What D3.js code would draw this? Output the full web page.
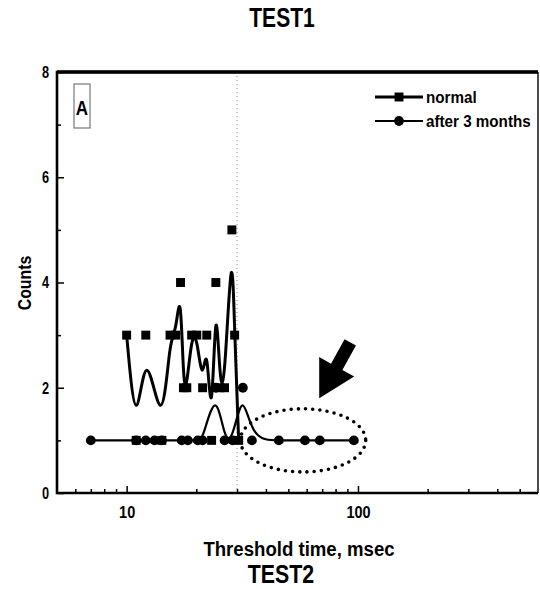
<!DOCTYPE html>
<html>
<head>
<meta charset="utf-8">
<script src="https://cdn.jsdelivr.net/npm/d3@7/dist/d3.min.js"></script>
<style>
  body { margin: 0; background: #fff; }
  svg { display: block; }
  text { font-family: "Liberation Sans", Arial, sans-serif; font-weight: bold; fill: #000; }
</style>
</head>
<body>
<svg id="chart" width="540" height="589"></svg>
<script>
// Threshold-time histograms: counts per threshold time (msec)
const seriesNames = ["normal", "after 3 months"];

const normalTime   = [10, 11, 12.1, 14.2, 15.4, 16.3, 17.1, 17.6, 18.2, 19.1, 20.1, 21.3, 22.2, 23.3, 24.3, 25.3, 26.5, 28.5, 29.3, 30.5];
const normalCounts = [3, 1, 3, 1, 3, 3, 4, 2, 2, 3, 3, 2, 3, 1, 4, 2, 2, 5, 3, 1];

const afterTime   = [7, 11, 12.1, 13.2, 14.2, 17.3, 18.4, 20.3, 21.3, 24.3, 26.5, 28.7, 31.8, 34.8, 45.5, 59, 68.4, 96];
const afterCounts = [1, 1, 1, 1, 1, 1, 1, 1, 1, 2, 1, 1, 2, 1, 1, 1, 1, 1];

const xMajorTicks = [10, 100];
const xMinorTicks = [6, 7, 8, 9, 20, 30, 40, 50, 60, 70, 80, 90, 200, 300, 400, 500];
const yMajorTicks = [0, 2, 4, 6, 8];
const yMinorTicks = [1, 3, 5, 7];

const cutoffTime = 30;                       // dotted reference line
const highlight = { x0: 31, x1: 108, y0: 0.4, y1: 1.6 }; // dotted ellipse around the tail
const arrowTip = { t: 68, c: 1.8 };

const titleTop = "TEST1";
const titleBottom = "TEST2";
const xTitle = "Threshold time, msec";
const yTitle = "Counts";
const panelLabel = "A";

const svg = d3.select("#chart");
const plot = { left: 57, right: 538, top: 72, bottom: 493 };

const x = d3.scaleLog().domain([5, 600]).range([plot.left, plot.right]);
const y = d3.scaleLinear().domain([0, 8]).range([plot.bottom, plot.top]);

// narrow the bold face so text keeps its height but gets a condensed width
function condense(sel, k) {
  sel.each(function () {
    const w = this.getComputedTextLength();
    this.setAttribute("textLength", (w * k).toFixed(1));
    this.setAttribute("lengthAdjust", "spacingAndGlyphs");
  });
}

// titles
svg.append("text").attr("x", 282).attr("y", 27).attr("text-anchor", "middle")
  .style("font-size", "27px").text(titleTop).call(condense, 0.78);
svg.append("text").attr("x", 281).attr("y", 583).attr("text-anchor", "middle")
  .style("font-size", "26px").text(titleBottom).call(condense, 0.82);

// axes (ticks point inward)
const xMinor = d3.axisBottom(x).tickValues(xMinorTicks).tickSize(-4).tickFormat("");
const xMajor = d3.axisBottom(x).tickValues(xMajorTicks).tickSize(-7).tickPadding(13)
  .tickFormat(d => String(d));
const gxm = svg.append("g").attr("transform", `translate(0,${plot.bottom})`).call(xMinor);
const gx = svg.append("g").attr("transform", `translate(0,${plot.bottom})`).call(xMajor);
[gxm, gx].forEach(g => { g.select(".domain").remove(); g.selectAll("line").attr("stroke", "#000").attr("stroke-width", 1.5); });
gx.selectAll("text").style("font-size", "17px").call(condense, 0.85);

const yMinor = d3.axisLeft(y).tickValues(yMinorTicks).tickSize(-4).tickFormat("");
const yMajor = d3.axisLeft(y).tickValues(yMajorTicks).tickSize(-7).tickPadding(8)
  .tickFormat(d => String(d));
const gym = svg.append("g").attr("transform", `translate(${plot.left},0)`).call(yMinor);
const gy = svg.append("g").attr("transform", `translate(${plot.left},0)`).call(yMajor);
[gym, gy].forEach(g => { g.select(".domain").remove(); g.selectAll("line").attr("stroke", "#000").attr("stroke-width", 1.5); });
gy.selectAll("text").style("font-size", "17px").call(condense, 0.75);

// cutoff line
svg.append("line")
  .attr("x1", x(cutoffTime)).attr("x2", x(cutoffTime))
  .attr("y1", plot.top).attr("y2", plot.bottom)
  .attr("stroke", "#888").attr("stroke-width", 1).attr("stroke-dasharray", "1,3");

// frame
svg.append("path")
  .attr("d", `M${plot.right},${plot.top}H${plot.left}V${plot.bottom}H${plot.right}`)
  .attr("fill", "none").attr("stroke", "#000").attr("stroke-width", 2.6);
svg.append("line").attr("x1", plot.right).attr("x2", plot.right)
  .attr("y1", plot.top).attr("y2", plot.bottom).attr("stroke", "#000").attr("stroke-width", 1.4);
svg.append("line").attr("x1", plot.left).attr("x2", plot.right)
  .attr("y1", plot.top).attr("y2", plot.top).attr("stroke", "#000").attr("stroke-width", 3.5);

// axis titles
svg.append("text").attr("x", 299).attr("y", 556).attr("text-anchor", "middle")
  .style("font-size", "20px").text(xTitle).call(condense, 0.93);
svg.append("text").attr("transform", "translate(31,283) rotate(-90)").attr("text-anchor", "middle")
  .style("font-size", "18px").text(yTitle).call(condense, 0.88);

// panel label
svg.append("rect").attr("x", 74).attr("y", 84).attr("width", 16).attr("height", 44)
  .attr("fill", "none").attr("stroke", "#777").attr("stroke-width", 1.2);
svg.append("text").attr("x", 82).attr("y", 115).attr("text-anchor", "middle")
  .style("font-size", "20px").text(panelLabel).call(condense, 0.85);

// series
const normalData = normalTime.map((t, i) => ({ t, c: normalCounts[i] }));
const afterData = afterTime.map((t, i) => ({ t, c: afterCounts[i] }));

const line = d3.line().x(d => x(d.t)).y(d => y(d.c)).curve(d3.curveBasis);

svg.append("path").datum(afterData).attr("d", line)
  .attr("fill", "none").attr("stroke", "#000").attr("stroke-width", 2.2);
svg.append("path").datum(normalData).attr("d", line)
  .attr("fill", "none").attr("stroke", "#000").attr("stroke-width", 3);

const sq = d3.symbol().type(d3.symbolSquare).size(80);
const ci = d3.symbol().type(d3.symbolCircle).size(75);

svg.append("g").selectAll("path").data(afterData).join("path")
  .attr("d", ci).attr("transform", d => `translate(${x(d.t)},${y(d.c)})`).attr("fill", "#000");
svg.append("g").selectAll("path").data(normalData).join("path")
  .attr("d", sq).attr("transform", d => `translate(${x(d.t)},${y(d.c)})`).attr("fill", "#000");

// legend
const legend = svg.append("g");
[{ name: seriesNames[0], y: 97, w: 3, sym: sq }, { name: seriesNames[1], y: 121, w: 1.8, sym: ci }]
  .forEach(item => {
    legend.append("line").attr("x1", 375).attr("x2", 423).attr("y1", item.y).attr("y2", item.y)
      .attr("stroke", "#000").attr("stroke-width", item.w);
    legend.append("path").attr("d", item.sym).attr("transform", `translate(399,${item.y})`).attr("fill", "#000");
    legend.append("text").attr("x", 426).attr("y", item.y + 6).style("font-size", "16px")
      .text(item.name).call(condense, 0.95);
  });

// dotted ellipse highlighting the long threshold times
const ex0 = x(highlight.x0), ex1 = x(highlight.x1);
svg.append("ellipse")
  .attr("cx", (ex0 + ex1) / 2).attr("cy", (y(highlight.y0) + y(highlight.y1)) / 2)
  .attr("rx", (ex1 - ex0) / 2).attr("ry", (y(highlight.y0) - y(highlight.y1)) / 2)
  .attr("fill", "none").attr("stroke", "#000").attr("stroke-width", 3.6)
  .attr("stroke-linecap", "round").attr("stroke-dasharray", "0 7.2");

// arrow pointing at the ellipse
const headLen = 36, headHalf = 20, shaftLen = 28, shaftHalf = 6.5;
const arrowPath = `M0,0 L${-headLen},${-headHalf} L${-headLen},${-shaftHalf} L${-headLen - shaftLen},${-shaftHalf}
  L${-headLen - shaftLen},${shaftHalf} L${-headLen},${shaftHalf} L${-headLen},${headHalf} Z`;
svg.append("path").attr("d", arrowPath)
  .attr("transform", `translate(${x(arrowTip.t)},${y(arrowTip.c)}) rotate(119)`)
  .attr("fill", "#000");
</script>
</body>
</html>
